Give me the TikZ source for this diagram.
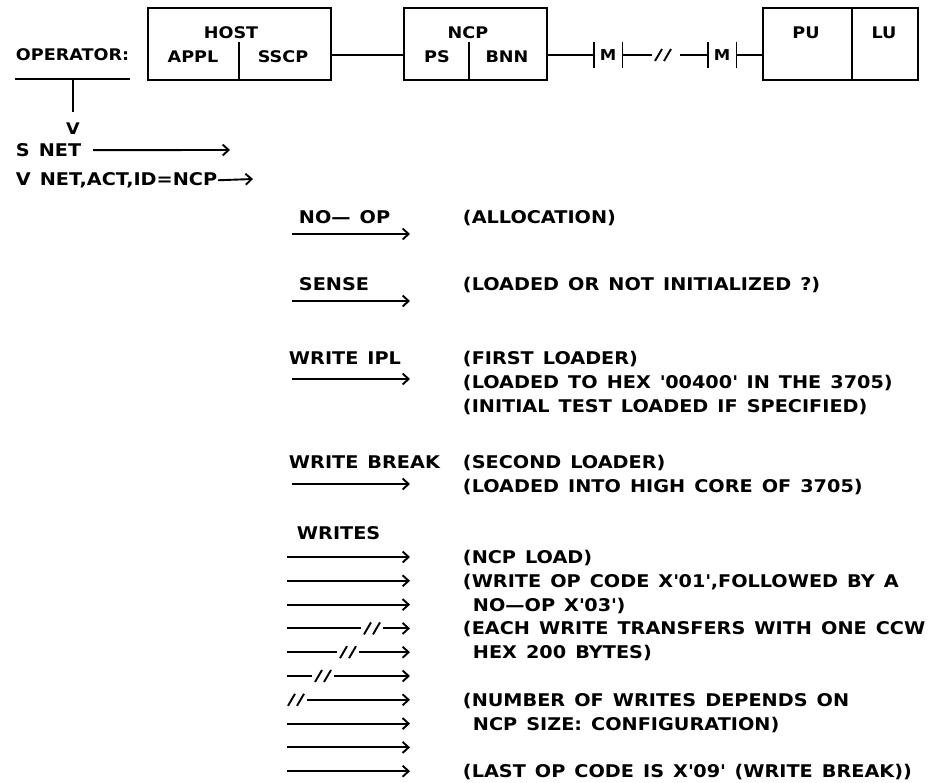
\documentclass[tikz,border=0pt]{standalone}
\usepackage{fontspec}
\setmainfont{DejaVu Sans}[FakeStretch=1.1,WordSpace=1.35]
\usetikzlibrary{arrows.meta,positioning}
\newcommand{\dcffont}{\bfseries\fontsize{17.5}{20}\selectfont}
\newcommand{\unitfont}{\bfseries\fontsize{16}{19}\selectfont}
\newcommand{\sqt}{\textquotesingle}

\begin{document}
\begin{tikzpicture}[x=1pt,y=-1pt,line width=1.9pt,
    every node/.style={inner sep=0pt,font=\dcffont}]
  \tikzstyle{lbl}=[anchor=base west,yshift=-6.5pt]
  \tikzstyle{ctr}=[anchor=base,yshift=-6pt,font=\unitfont]
  \tikzstyle{unit}=[draw,rectangle,minimum height=72pt,anchor=north west]
  \tikzstyle{jack}=[minimum width=27pt,minimum height=25pt,
    font=\bfseries\fontsize{15}{18}\selectfont]
  \tikzstyle{cmd}=[-{Straight Barb[length=6pt,width=11pt]}]

  \useasboundingbox (0,0) rectangle (942,782);

  % network: host - ncp - link - pu/lu
  \node[unit,minimum width=183pt] (host) at (147,7) {};
  \node[unit,minimum width=143pt] (ncp) at (403,7) {};
  \node[unit,minimum width=155pt] (pulu) at (762,7) {};
  \node[ctr] (hostname) at (231,32) {HOST};
  \node[ctr] (appl) at (193,56) {APPL};
  \node[ctr] (sscp) at (283,56) {SSCP};
  \node[ctr] (ncpname) at (468,32) {NCP};
  \node[ctr] (ps) at (437,56) {PS};
  \node[ctr] (bnn) at (507,56) {BNN};
  \node[ctr] (pu) at (806,32) {PU};
  \node[ctr] (lu) at (884,32) {LU};
  \draw (239,42) -- (239,79);
  \draw (469,42) -- (469,79);
  \draw (852,7) -- (852,79);

  \node[jack] (modem1) at (608,55) {M};
  \node[jack] (modem2) at (722,55) {M};
  \foreach \m in {modem1,modem2}
    \draw (\m.north west) -- (\m.south west) (\m.north east) -- (\m.south east);
  \coordinate (cutl) at (652,55);
  \coordinate (cutr) at (680,55);
  \draw (host.east |- modem1) -- (ncp.west |- modem1);
  \draw (ncp.east |- modem1) -- (modem1.west);
  \draw (modem1.east) -- (cutl);
  \draw (cutr) -- (modem2.west);
  \draw (modem2.east) -- (pulu.west |- modem2);
  \draw (655,61) -- (662,49) (664,61) -- (671,49);

  % operator
  \node[lbl,font=\unitfont] (oper) at (15,54) {OPERATOR:};
  \coordinate (operl) at (15,79);
  \coordinate (operr) at (130,79);
  \draw (operl) -- (operr);
  \node[ctr] (vmark) at (73,128) {V};
  \draw (73,79) -- (73,112);

  \node[lbl] (snet) at (15,150) {S NET};
  \coordinate (snettip) at (230,150);
  \draw[cmd] ([xshift=11pt]snet.east) -- (snettip);
  \node[lbl] (vnet) at (15,179) {V NET,ACT,ID=NCP};
  \coordinate (vnettip) at (253,179);
  \draw[cmd] (vnet.east) -- (vnettip);

  % channel commands
  \foreach \name/\x/\y/\txt in {noop/298/217/NO— OP, sense/298/284/SENSE,
      ipl/288/358/WRITE IPL, brk/288/462/WRITE BREAK, writes/296/533/WRITES}
    \node[lbl] (\name) at (\x,\y) {\txt};
  \foreach \name/\y in {noop/234, sense/301, ipl/379, brk/484} {
    \coordinate (\name a) at (292,\y);
    \coordinate (\name b) at (410,\y);
    \draw[cmd] (\name a) -- (\name b);
  }

  \foreach \i in {0,...,9} {
    \coordinate (w\i a) at (287,{557+23.8*\i});
    \coordinate (w\i b) at (410,{557+23.8*\i});
  }
  \foreach \i in {0,1,2,7,8,9}
    \draw[cmd] (w\i a) -- (w\i b);
  % broken lines
  \foreach \i/\g in {3/364,4/340,5/315,6/288} {
    \pgfmathsetmacro{\yy}{557+23.8*\i}
    \ifnum\g>288 \draw (w\i a) -- (\g-3,\yy); \fi
    \draw (\g,\yy+6) -- (\g+7,\yy-6) (\g+9,\yy+6) -- (\g+16,\yy-6);
    \draw[cmd] (\g+19,\yy) -- (w\i b);
  }

  % comments
  \foreach \x/\y/\txt [count=\n] in {462/217/{(ALLOCATION)},
      462/284/{(LOADED OR NOT INITIALIZED ?)},
      462/358/{(FIRST LOADER)},
      462/382/{(LOADED TO HEX \sqt00400\sqt\ IN THE 3705)},
      462/406/{(INITIAL TEST LOADED IF SPECIFIED)},
      462/462/{(SECOND LOADER)},
      462/486/{(LOADED INTO HIGH CORE OF 3705)},
      462/557/{(NCP LOAD)},
      462/580.8/{(WRITE OP CODE X\sqt01\sqt,FOLLOWED BY A},
      472/604.6/{NO—OP X\sqt03\sqt)},
      462/628.4/{(EACH WRITE TRANSFERS WITH ONE CCW},
      472/652.2/{HEX 200 BYTES)},
      462/699.8/{(NUMBER OF WRITES DEPENDS ON},
      472/723.6/{NCP SIZE: CONFIGURATION)},
      462/771.2/{(LAST OP CODE IS X\sqt09\sqt\ (WRITE BREAK))}}
    \node[lbl] (note\n) at (\x,\y) {\txt};
\end{tikzpicture}
\end{document}
